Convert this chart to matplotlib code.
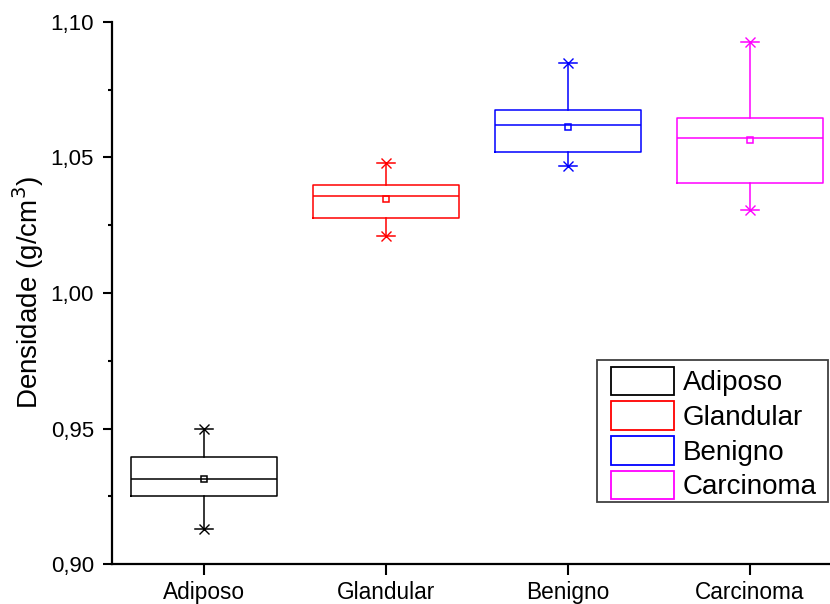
import matplotlib
matplotlib.use("Agg")
import matplotlib.pyplot as plt
from matplotlib.patches import Rectangle
from matplotlib.legend_handler import HandlerPatch
from matplotlib.ticker import MultipleLocator, FuncFormatter

plt.rcParams['font.family'] = ['Liberation Sans', 'DejaVu Sans']

# Tissue groups and their box-plot summaries (g/cm^3)
categories = ["Adiposo", "Glandular", "Benigno", "Carcinoma"]
colors = ["#000000", "#ff0000", "#0000ff", "#ff00ff"]
whis_low = [0.9129, 1.0209, 1.0469, 1.0306]
q1 = [0.9252, 1.0277, 1.0519, 1.0407]
median = [0.9315, 1.0359, 1.0619, 1.0572]
mean = [0.9314, 1.0346, 1.0614, 1.0563]
q3 = [0.9396, 1.0399, 1.0676, 1.0647]
whis_high = [0.9498, 1.0479, 1.0849, 1.0926]

fig = plt.figure(figsize=(8.30, 6.04), dpi=100)
ax = fig.add_axes([0.1349, 0.0662, 0.8651, 0.8974])

positions = list(range(1, len(categories) + 1))
for i, pos in enumerate(positions):
    stats = [dict(med=median[i], q1=q1[i], q3=q3[i],
                  whislo=whis_low[i], whishi=whis_high[i],
                  mean=mean[i], fliers=[])]
    c = colors[i]
    ax.bxp(stats, positions=[pos], widths=0.8, capwidths=0.1,
           showmeans=True, showfliers=False, patch_artist=False,
           boxprops=dict(color=c, linewidth=1.1),
           medianprops=dict(color=c, linewidth=1.1),
           whiskerprops=dict(color=c, linewidth=1.1),
           capprops=dict(color=c, linewidth=1.1),
           meanprops=dict(marker='s', markerfacecolor='none',
                          markeredgecolor=c, markersize=5,
                          markeredgewidth=1.1))
    # asterisk markers at the whisker ends
    ax.plot([pos, pos], [whis_low[i], whis_high[i]], linestyle='none',
            marker='x', markersize=7, markeredgewidth=1.0, color=c)

ax.set_xlim(0.494, 4.441)
ax.set_ylim(0.90, 1.10)
ax.set_xticks(positions)
ax.set_xticklabels(categories, fontsize=16.3)
ax.yaxis.set_major_locator(MultipleLocator(0.05))
ax.yaxis.set_minor_locator(MultipleLocator(0.025))
ax.yaxis.set_major_formatter(FuncFormatter(lambda v, p: f"{v:.2f}".replace('.', ',')))
ax.tick_params(axis='y', which='major', labelsize=16, length=6.5, width=1.5,
               direction='out', pad=6.5)
ax.tick_params(axis='y', which='minor', length=3, width=1.5, direction='out')
ax.tick_params(axis='x', which='major', length=8, width=1.5, direction='out', pad=4)
ax.tick_params(axis='x', which='minor', bottom=False)

for side in ('top', 'right'):
    ax.spines[side].set_visible(False)
for side in ('left', 'bottom'):
    ax.spines[side].set_linewidth(1.6)

ax.set_ylabel("Densidade (g/cm$^3$)", fontsize=20, labelpad=3)


def inset_box(legend, orig_handle, xdescent, ydescent, width, height, fontsize):
    shift = 5.8
    return Rectangle((-xdescent + shift, -ydescent), width - shift, height)


handles = [Rectangle((0, 0), 1, 1, facecolor='none', edgecolor=c, linewidth=1.3)
           for c in colors]
leg = ax.legend(handles, categories, loc='lower right', bbox_to_anchor=(0.9889, 0.107),
                fontsize=20, frameon=False, handlelength=2.55,
                handleheight=1.21, handletextpad=0.3, labelspacing=0.18,
                borderpad=0.2, borderaxespad=0.0,
                handler_map={Rectangle: HandlerPatch(patch_func=inset_box)})

# legend frame
ax.add_patch(Rectangle((0.6755, 0.1144), 0.9972 - 0.6755, 0.3764 - 0.1144,
                       transform=ax.transAxes, facecolor='none',
                       edgecolor='#404040', linewidth=1.3, zorder=6, clip_on=False))

fig.savefig("out.png", dpi=100)
